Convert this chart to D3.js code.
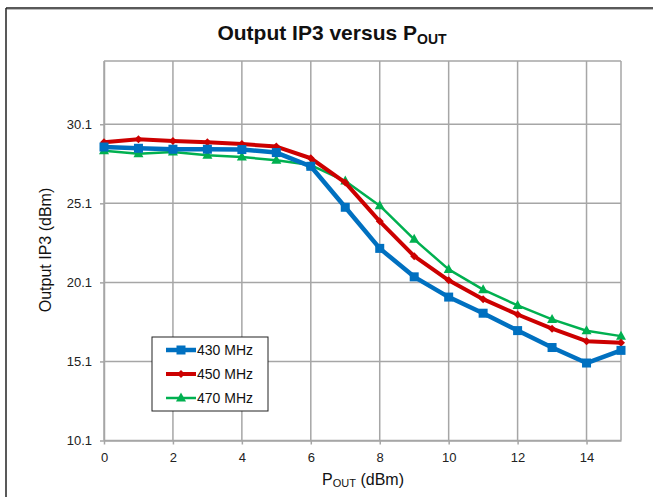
<!DOCTYPE html>
<html><head><meta charset="utf-8">
<script src="https://cdn.jsdelivr.net/npm/d3@7"></script>
<style>
html,body{margin:0;padding:0;background:#fff;}
svg{display:block;font-family:"Liberation Sans",Arial,sans-serif;}
</style></head>
<body>
<script>
const pout = [0,1,2,3,4,5,6,7,8,9,10,11,12,13,14,15];
const ip3_430 = [28.66,28.58,28.52,28.52,28.50,28.31,27.44,24.85,22.25,20.45,19.17,18.15,17.05,15.98,15.0,15.8];
const ip3_450 = [28.96,29.15,29.04,28.96,28.85,28.69,27.95,26.41,23.96,21.76,20.23,19.04,18.07,17.17,16.38,16.28];
const ip3_470 = [28.43,28.24,28.35,28.14,28.03,27.82,27.52,26.51,24.95,22.82,20.92,19.64,18.64,17.76,17.04,16.70];
const xTicks = [0,2,4,6,8,10,12,14];
const yTicks = [10.1,15.1,20.1,25.1,30.1];
const seriesNames = ["430 MHz","450 MHz","470 MHz"];

const W=653,H=497;
const svg=d3.select("body").append("svg").attr("width",W).attr("height",H);
svg.append("rect").attr("width",W).attr("height",H).attr("fill","#fff");
// outer frame (left and top edges visible)
svg.append("line").attr("x1",6).attr("y1",8).attr("x2",W).attr("y2",8).attr("stroke","#222").attr("stroke-width",1.5);
svg.append("line").attr("x1",6).attr("y1",8).attr("x2",6).attr("y2",H).attr("stroke","#222").attr("stroke-width",1.5);
svg.append("line").attr("x1",7).attr("y1",9.5).attr("x2",W).attr("y2",9.5).attr("stroke","#bbb").attr("stroke-width",1);

const L=104,R=621,T=61,B=440.5;
const x=d3.scaleLinear().domain([0,15]).range([L,R]);
const y=d3.scaleLinear().domain([10.1,34.1]).range([B,T]);

const grid="#a6a6a6";
// gridlines
svg.append("g").selectAll("line").data(xTicks.concat([15])).join("line")
  .attr("x1",d=>x(d)).attr("x2",d=>x(d)).attr("y1",T).attr("y2",B)
  .attr("stroke",grid).attr("stroke-width",1.5);
svg.append("g").selectAll("line").data(yTicks.concat([34.1])).join("line")
  .attr("x1",L).attr("x2",R).attr("y1",d=>y(d)).attr("y2",d=>y(d))
  .attr("stroke",grid).attr("stroke-width",1.5);

// axes
const xa=svg.append("g").attr("transform",`translate(0,${B})`)
  .call(d3.axisBottom(x).tickValues(xTicks).tickSize(4).tickSizeOuter(0).tickPadding(8));
const ya=svg.append("g").attr("transform",`translate(${L},0)`)
  .call(d3.axisLeft(y).tickValues(yTicks).tickFormat(d3.format(".1f")).tickSize(4).tickSizeOuter(0).tickPadding(8));
[xa,ya].forEach(g=>{
  g.select(".domain").attr("stroke",grid).attr("stroke-width",1.5);
  g.selectAll(".tick line").attr("stroke",grid).attr("stroke-width",1.5);
  g.selectAll("text").attr("fill","#222").attr("font-size",13).attr("font-family","Liberation Sans, Arial, sans-serif");
});
xa.selectAll("text").attr("dy","0.71em");

// series
const colors=["#0070C0","#CC0000","#00B050"];
const data=[ip3_430,ip3_450,ip3_470];
const widths=[4.5,4,2.5];
const line=d3.line().x((d,i)=>x(pout[i])).y(d=>y(d));
function marker(g,k,cx,cy,c){
  if(k===0){g.append("rect").attr("x",cx-4.5).attr("y",cy-4.5).attr("width",9).attr("height",9).attr("fill",c);}
  else if(k===1){g.append("path").attr("d",`M${cx},${cy-4}L${cx+4},${cy}L${cx},${cy+4}L${cx-4},${cy}Z`).attr("fill",c);}
  else {g.append("path").attr("d",`M${cx},${cy-5.5}L${cx+5},${cy+3.5}L${cx-5},${cy+3.5}Z`).attr("fill",c);}
}
[2,1,0].forEach(k=>{
  const g=svg.append("g");
  g.append("path").datum(data[k]).attr("d",line).attr("fill","none")
    .attr("stroke",colors[k]).attr("stroke-width",widths[k]).attr("stroke-linejoin","round");
  data[k].forEach((v,i)=>marker(g,k,x(pout[i]),y(v),colors[k]));
});

// legend
const lg=svg.append("g");
lg.append("rect").attr("x",152).attr("y",337).attr("width",116).attr("height",74)
  .attr("fill","#fff").attr("stroke","#222").attr("stroke-width",1);
seriesNames.forEach((n,k)=>{
  const yy=350+k*24;
  lg.append("line").attr("x1",166).attr("x2",196).attr("y1",yy).attr("y2",yy)
    .attr("stroke",colors[k]).attr("stroke-width",widths[k]);
  marker(lg,k,181,yy,colors[k]);
  lg.append("text").attr("x",197).attr("y",yy+5).attr("font-size",14).attr("fill","#111").text(n);
});

// title
const t=svg.append("text").attr("x",332).attr("y",40).attr("text-anchor","middle")
  .attr("font-size",21).attr("font-weight","bold").attr("fill","#111");
t.append("tspan").text("Output IP3 versus P");
t.append("tspan").attr("font-size",14).attr("dy",4).text("OUT");

// x label
const xl=svg.append("text").attr("x",363).attr("y",485).attr("text-anchor","middle")
  .attr("font-size",16).attr("fill","#111");
xl.append("tspan").text("P");
xl.append("tspan").attr("font-size",11).attr("dy",2).text("OUT");
xl.append("tspan").attr("dy",-2).text(" (dBm)");

// y label
svg.append("text").attr("transform",`translate(51,250) rotate(-90)`).attr("text-anchor","middle")
  .attr("font-size",16).attr("fill","#111").text("Output IP3 (dBm)");
</script>
</body></html>
